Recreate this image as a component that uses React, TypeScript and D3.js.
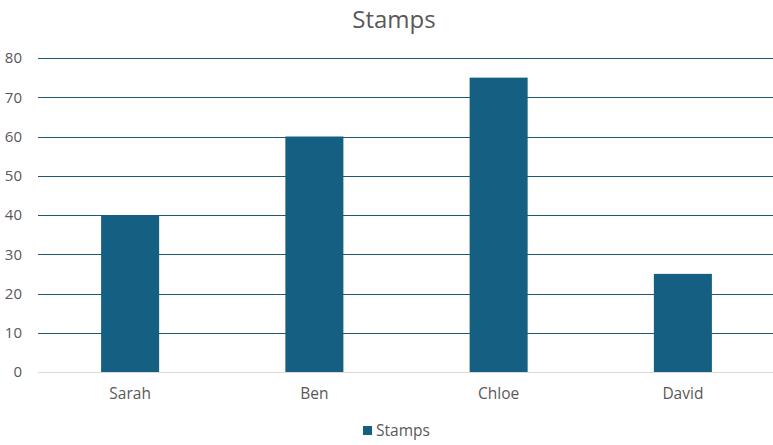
import React from "react";
import * as d3 from "d3";

const categories = ["Sarah", "Ben", "Chloe", "David"];
const values = [40, 60, 75, 25];
const yTicks = [0, 10, 20, 30, 40, 50, 60, 70, 80];
const seriesName = "Stamps";

const W = 773;
const H = 445;
const margin = { left: 38, right: -2, top: 58, bottom: 73 };
const FONT = "'Open Sans', Roboto, sans-serif";

export default function App() {
  const x = d3
    .scaleBand<string>()
    .domain(categories)
    .range([margin.left, W - margin.right])
    .padding(0);
  const y = d3.scaleLinear().domain([0, 80]).range([H - margin.bottom, margin.top]);
  const barW = x.step() * 0.315;
  const color = "#156082";

  return (
    <svg
      width={W}
      height={H}
      style={{ position: "absolute", left: 0, top: 0, background: "#fff" }}
      fontFamily={FONT}
    >
      <text x={394} y={28} textAnchor="middle" fontSize={24} fill="#595959">
        Stamps
      </text>
      {yTicks.map((t) => (
        <g key={t}>
          <line
            x1={margin.left}
            x2={W}
            y1={Math.round(y(t)) + 0.5}
            y2={Math.round(y(t)) + 0.5}
            stroke={t === 0 ? "#d9d9d9" : "#1e5873"}
            strokeWidth={1}
          />
          <text
            x={22}
            y={y(t)}
            dy="0.35em"
            textAnchor="end"
            fontSize={15}
            fill="#595959"
          >
            {t}
          </text>
        </g>
      ))}
      {categories.map((c, i) => (
        <rect
          key={c}
          x={x(c)! + x.bandwidth() / 2 - barW / 2}
          y={y(values[i])}
          width={barW}
          height={y(0) - y(values[i])}
          fill={color}
        />
      ))}
      {categories.map((c) => (
        <text
          key={c}
          x={x(c)! + x.bandwidth() / 2}
          y={394}
          dy="0.35em"
          textAnchor="middle"
          fontSize={15.5}
          fill="#595959"
        >
          {c}
        </text>
      ))}
      <rect x={363} y={426} width={9} height={9} fill={color} />
      <text x={376} y={431} dy="0.35em" fontSize={15.5} fill="#595959">
        {seriesName}
      </text>
    </svg>
  );
}
